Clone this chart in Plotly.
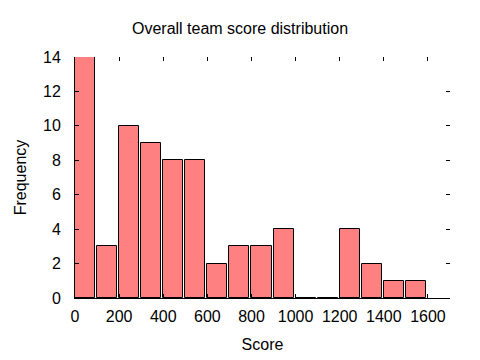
import plotly.graph_objects as go

bin_starts = [0, 100, 200, 300, 400, 500, 600, 700, 800, 900, 1000, 1100, 1200, 1300, 1400, 1500]
frequency = [14, 3, 10, 9, 8, 8, 2, 3, 3, 4, 0, 0, 4, 2, 1, 1]
x_ticks = [0, 200, 400, 600, 800, 1000, 1200, 1400, 1600]
y_ticks = [0, 2, 4, 6, 8, 10, 12, 14]

FONT = "Liberation Sans"
FS = 16

fig = go.Figure()
fig.add_trace(go.Bar(
    x=bin_starts, y=frequency, width=91, offset=0,
    marker=dict(color="#ff8080", line=dict(color="black", width=1)),
    showlegend=False, hoverinfo="skip",
))

fig.update_layout(
    width=480, height=360,
    margin=dict(l=75, r=30, t=57, b=62, autoexpand=False),
    paper_bgcolor="white", plot_bgcolor="white",
    font=dict(family=FONT, size=FS, color="black"),
    title=dict(text="Overall team score distribution", x=0.5, xanchor="center",
               y=1 - 28 / 360, yanchor="middle", font=dict(size=FS), automargin=False),
    bargap=0,
    xaxis=dict(range=[0, 1700], tickvals=x_ticks, ticks="inside", ticklen=4,
               tickcolor="black", showline=True, linecolor="black", linewidth=1,
               showgrid=False, zeroline=False, ticklabelstandoff=4, automargin=False,
               tickfont=dict(size=FS),
               title=dict(text="Score", standoff=14, font=dict(size=FS))),
    yaxis=dict(range=[0, 14], tickvals=y_ticks, ticks="inside", ticklen=4,
               tickcolor="black", showline=True, linecolor="black", linewidth=1,
               showgrid=False, zeroline=False, ticklabelstandoff=10, automargin=False,
               tickfont=dict(size=FS),
               title=dict(text="Frequency", standoff=12, font=dict(size=FS))),
    xaxis2=dict(range=[0, 1700], tickvals=x_ticks, ticks="inside", ticklen=4,
                tickcolor="black", showline=False, showticklabels=False,
                showgrid=False, zeroline=False, overlaying="x", side="top",
                anchor="y", automargin=False),
    yaxis2=dict(range=[0, 14], tickvals=y_ticks, ticks="inside", ticklen=4,
                tickcolor="black", showline=False, showticklabels=False,
                showgrid=False, zeroline=False, overlaying="y", side="right",
                anchor="x", automargin=False),
)
fig.add_trace(go.Scatter(x=[None], y=[None], xaxis="x2", yaxis="y2",
                         showlegend=False, hoverinfo="skip"))

fig.write_html("out.html", config={"displayModeBar": False},
               post_script="document.body.style.margin='0';")
